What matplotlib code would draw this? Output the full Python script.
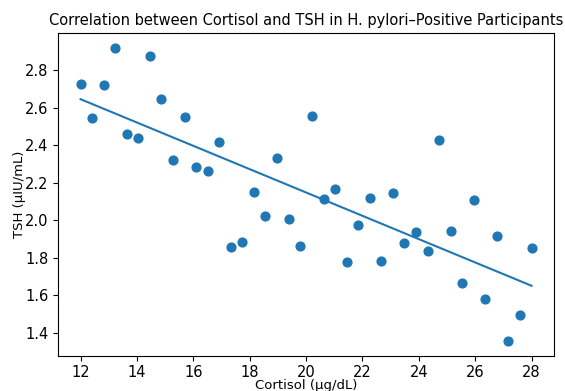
import numpy as np
import matplotlib.pyplot as plt

cortisol = [12.00, 12.41, 12.82, 13.23, 13.64, 14.05, 14.46, 14.87, 15.28, 15.69,
            16.10, 16.51, 16.92, 17.33, 17.74, 18.15, 18.56, 18.97, 19.38, 19.79,
            20.21, 20.62, 21.03, 21.44, 21.85, 22.26, 22.67, 23.08, 23.49, 23.90,
            24.31, 24.72, 25.13, 25.54, 25.95, 26.36, 26.77, 27.18, 27.59, 28.00]
tsh = [2.725, 2.546, 2.724, 2.921, 2.461, 2.439, 2.875, 2.649, 2.320, 2.551,
       2.283, 2.260, 2.416, 1.858, 1.885, 2.153, 2.020, 2.333, 2.007, 1.861,
       2.558, 2.114, 2.169, 1.776, 1.973, 2.117, 1.781, 2.144, 1.879, 1.936,
       1.838, 2.430, 1.943, 1.664, 2.110, 1.581, 1.917, 1.355, 1.493, 1.853]

x = np.array(cortisol)
y = np.array(tsh)
slope, intercept = np.polyfit(x, y, 1)

fig = plt.figure(figsize=(5.65, 3.91), dpi=100)
ax = fig.add_axes([0.1027, 0.0903, 0.878, 0.8253])
ax.scatter(x, y, s=40)
ax.plot(x, slope * x + intercept)
ax.set_title('Correlation between Cortisol and TSH in H. pylori–Positive Participants',
             fontsize=10.5)
ax.set_xlabel('Cortisol (µg/dL)', fontsize=9.5, labelpad=-1)
ax.set_ylabel('TSH (µIU/mL)', fontsize=9.5, labelpad=-1)
ax.tick_params(labelsize=10.5)

fig.savefig('out.png', dpi=100)
